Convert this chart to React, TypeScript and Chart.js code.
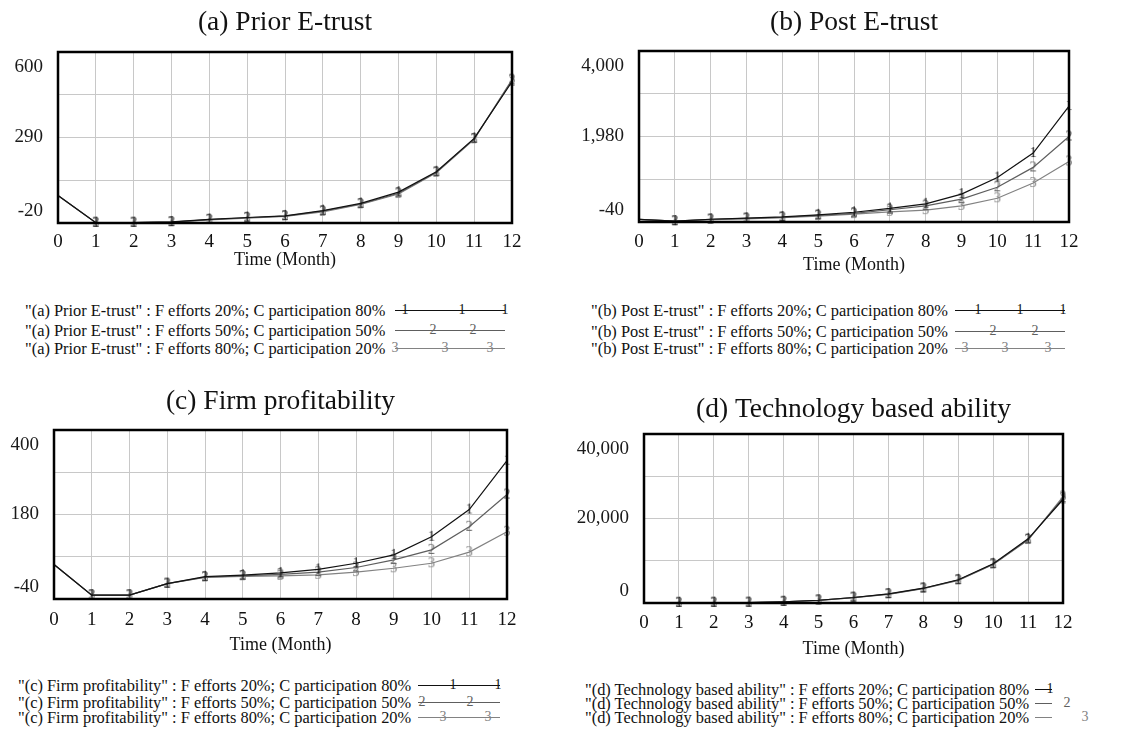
import React, { useEffect, useRef } from 'react';
import { Chart, registerables } from 'chart.js';

Chart.register(...registerables);

// ---------- data ----------
const months = ['0', '1', '2', '3', '4', '5', '6', '7', '8', '9', '10', '11', '12'];
const scenarios = [
  'F efforts 20%; C participation 80%',
  'F efforts 50%; C participation 50%',
  'F efforts 80%; C participation 20%',
];
const titles = ['(a) Prior E-trust', '(b) Post E-trust', '(c) Firm profitability', '(d) Technology based ability'];
const xAxisTitle = 'Time (Month)';

// (a) Prior E-trust
const priorS1 = [80, -19, -19, -16, -7, 0, 6, 25, 51, 92, 166, 287, 492];
const priorS2 = [80, -19, -19, -17, -8, -1, 5, 23, 49, 88, 164, 285, 497];
const priorS3 = [80, -19, -19, -17, -9, -2, 4, 20, 47, 85, 162, 283, 500];
const priorRange = [-20, 600];
const priorYLabels = ['600', '290', '-20'];

// (b) Post E-trust
const postS1 = [20, -20, 25, 50, 80, 130, 190, 280, 390, 620, 1010, 1590, 2700];
const postS2 = [20, -20, 20, 45, 70, 115, 165, 250, 340, 500, 780, 1250, 1980];
const postS3 = [20, -20, 15, 35, 60, 100, 145, 200, 240, 340, 520, 880, 1390];
const postRange = [-40, 4000];
const postYLabels = ['4,000', '1,980', '-40'];

// (c) Firm profitability
const profitS1 = [50, -30, -30, 0, 18, 22, 28, 37, 53, 75, 122, 193, 320];
const profitS2 = [50, -30, -30, 0, 17, 20, 24, 30, 42, 62, 88, 148, 232];
const profitS3 = [50, -30, -30, 0, 16, 19, 20, 23, 30, 40, 53, 82, 135];
const profitRange = [-40, 400];
const profitYLabels = ['400', '180', '-40'];

// (d) Technology based ability
const techS1 = [0, 50, 60, 80, 300, 650, 1300, 2150, 3500, 5500, 9300, 15200, 24500];
const techS2 = [0, 50, 60, 80, 290, 630, 1270, 2100, 3450, 5400, 9200, 15000, 24800];
const techS3 = [0, 50, 60, 80, 280, 610, 1250, 2050, 3400, 5350, 9100, 14900, 25200];
const techRange = [0, 40000];
const techYLabels = ['40,000', '20,000', '0'];

// ---------- styles / layout ----------
const FONT = "'Liberation Serif', 'Times New Roman', serif";
const seriesColors = ['#111111', '#5e5e5e', '#828282'];
const gridColor = '#c8c8c8';

type Box = { left: number; top: number; width: number; height: number };
type Plot = { left: number; right: number; top: number; bottom: number };
type LegendRow = { from: number; to: number; digits: number[] };
type Panel = {
  title: string;
  series: number[][];
  yRange: number[];
  yLabels: string[];
  canvas: Box;
  plot: Plot;
  titleY: number;
  tickY: number;
  xTitleY: number;
  legend: { left: number; lh: number; ys: number[]; rows: LegendRow[] };
};

const panels: Panel[] = [
  {
    title: titles[0],
    series: [priorS1, priorS2, priorS3],
    yRange: priorRange,
    yLabels: priorYLabels,
    canvas: { left: 0, top: 0, width: 570, height: 275 },
    plot: { left: 58, right: 512, top: 52, bottom: 223 },
    titleY: 23,
    tickY: 242,
    xTitleY: 260,
    legend: {
      left: 25, lh: 19, ys: [310, 330, 348],
      rows: [
        { from: 395, to: 505, digits: [405, 462, 505] },
        { from: 395, to: 505, digits: [433, 473] },
        { from: 395, to: 505, digits: [395, 445, 490] },
      ],
    },
  },
  {
    title: titles[1],
    series: [postS1, postS2, postS3],
    yRange: postRange,
    yLabels: postYLabels,
    canvas: { left: 570, top: 0, width: 571, height: 280 },
    plot: { left: 639, right: 1069, top: 51, bottom: 222 },
    titleY: 23,
    tickY: 242,
    xTitleY: 265,
    legend: {
      left: 591, lh: 19, ys: [310, 331, 348],
      rows: [
        { from: 955, to: 1065, digits: [978, 1020, 1063] },
        { from: 955, to: 1065, digits: [993, 1035] },
        { from: 955, to: 1065, digits: [965, 1005, 1048] },
      ],
    },
  },
  {
    title: titles[2],
    series: [profitS1, profitS2, profitS3],
    yRange: profitRange,
    yLabels: profitYLabels,
    canvas: { left: 0, top: 378, width: 570, height: 285 },
    plot: { left: 54, right: 507, top: 430, bottom: 599 },
    titleY: 402,
    tickY: 620,
    xTitleY: 645,
    legend: {
      left: 18, lh: 17, ys: [685, 702, 717],
      rows: [
        { from: 418, to: 500, digits: [453, 498] },
        { from: 418, to: 500, digits: [422, 470] },
        { from: 418, to: 500, digits: [443, 488] },
      ],
    },
  },
  {
    title: titles[3],
    series: [techS1, techS2, techS3],
    yRange: techRange,
    yLabels: techYLabels,
    canvas: { left: 570, top: 385, width: 571, height: 280 },
    plot: { left: 644, right: 1063, top: 434, bottom: 603 },
    titleY: 410,
    tickY: 623,
    xTitleY: 649,
    legend: {
      left: 585, lh: 15, ys: [689, 703, 717],
      rows: [
        { from: 1035, to: 1052, digits: [1050] },
        { from: 1035, to: 1052, digits: [1067] },
        { from: 1035, to: 1052, digits: [1085] },
      ],
    },
  },
];

function digitCanvas(d: string, color: string): HTMLCanvasElement {
  const c = document.createElement('canvas');
  c.width = 10;
  c.height = 16;
  const ctx = c.getContext('2d')!;
  ctx.font = `14px ${FONT}`;
  ctx.fillStyle = color;
  ctx.textAlign = 'center';
  ctx.textBaseline = 'middle';
  ctx.fillText(d, 5, 8.5);
  return c;
}

function PanelChart({ p }: { p: Panel }) {
  const ref = useRef<HTMLCanvasElement>(null);
  useEffect(() => {
    const canvas = ref.current!;
    const cv = p.canvas;
    const plot = p.plot;
    const [lo, hi] = p.yRange;
    const titleSize = 27.5;
    const titleLH = titleSize * 1.2;
    const titlePadTop = p.titleY - cv.top - titleLH / 2;
    const titlePadBottom = plot.top - cv.top - titleLH - titlePadTop;
    const xAxisH = cv.top + cv.height - plot.bottom;
    const tickPad = p.tickY - plot.bottom - 11.4;
    const xTitlePad = cv.top + cv.height - p.xTitleY - 10.8;

    const frameAndLabels = {
      id: 'frameAndLabels',
      afterDraw(chart: any) {
        const { ctx, chartArea: a } = chart;
        const ys = chart.scales.y;
        ctx.save();
        ctx.strokeStyle = '#000';
        ctx.lineWidth = 2.5;
        ctx.strokeRect(a.left, a.top, a.right - a.left, a.bottom - a.top);
        ctx.fillStyle = '#1a1a1a';
        ctx.font = `19px ${FONT}`;
        ctx.textAlign = 'right';
        ctx.textBaseline = 'middle';
        const vals = [hi, (lo + hi) / 2, lo];
        const offs = [15, 0, -12];
        p.yLabels.forEach((t, i) => {
          ctx.fillText(t, a.left - 15, ys.getPixelForValue(vals[i]) + offs[i]);
        });
        ctx.restore();
      },
    };

    const chart = new Chart(canvas, {
      type: 'line',
      data: {
        labels: months,
        datasets: p.series.map((s, i) => ({
          label: scenarios[i],
          data: s,
          borderColor: seriesColors[i],
          backgroundColor: seriesColors[i],
          borderWidth: 1.2,
          pointStyle: digitCanvas(String(i + 1), seriesColors[i]) as any,
          pointRadius: (c: any) => (c.dataIndex === 0 ? 0 : 5),
          clip: false as any,
          tension: 0,
          fill: false,
        })),
      },
      options: {
        responsive: false,
        animation: false,
        devicePixelRatio: 1,
        events: [],
        layout: {
          padding: {
            left: plot.left - cv.left,
            right: cv.left + cv.width - plot.right,
            top: 0,
            bottom: 0,
          },
        },
        plugins: {
          legend: { display: false },
          tooltip: { enabled: false },
          title: {
            display: true,
            text: p.title,
            color: '#111',
            font: { family: FONT, size: titleSize, weight: 'normal', lineHeight: 1.2 } as any,
            padding: { top: titlePadTop, bottom: titlePadBottom },
          },
        },
        scales: {
          x: {
            type: 'category',
            offset: false,
            grid: { color: gridColor, drawTicks: false, lineWidth: 1 },
            border: { display: false },
            ticks: {
              color: '#111',
              font: { family: FONT, size: 19 },
              padding: tickPad,
              maxRotation: 0,
              autoSkip: false,
            },
            title: {
              display: true,
              text: xAxisTitle,
              color: '#111',
              font: { family: FONT, size: 18 },
              padding: { top: xTitlePad, bottom: xTitlePad },
            },
            afterFit: (s: any) => {
              s.height = xAxisH;
            },
          },
          y: {
            type: 'linear',
            min: lo,
            max: hi,
            grid: { color: gridColor, drawTicks: false, lineWidth: 1 },
            border: { display: false },
            ticks: { display: false },
            afterBuildTicks: (s: any) => {
              s.ticks = [0, 1, 2, 3, 4].map((k) => ({ value: lo + (k * (hi - lo)) / 4 }));
            },
            afterFit: (s: any) => {
              s.width = 0;
            },
          },
        },
      },
      plugins: [frameAndLabels],
    } as any);
    return () => chart.destroy();
  }, [p]);
  return (
    <canvas
      ref={ref}
      width={p.canvas.width}
      height={p.canvas.height}
      style={{
        position: 'absolute',
        left: p.canvas.left,
        top: p.canvas.top,
        width: p.canvas.width,
        height: p.canvas.height,
      }}
    />
  );
}

function PanelLegend({ p }: { p: Panel }) {
  const L = p.legend;
  return (
    <>
      {scenarios.map((sc, i) => {
        const y = L.ys[i];
        const row = L.rows[i];
        return (
          <React.Fragment key={i}>
            <div
              style={{
                position: 'absolute',
                left: L.left,
                top: y - L.lh / 2,
                height: L.lh,
                lineHeight: `${L.lh}px`,
                fontSize: 16.4,
                whiteSpace: 'nowrap',
                color: '#111',
              }}
            >
              {`"${p.title}" : ${sc}`}
            </div>
            <div
              style={{
                position: 'absolute',
                left: row.from,
                top: y,
                width: row.to - row.from,
                height: 0,
                borderTop: `1.3px solid ${seriesColors[i]}`,
              }}
            />
            {row.digits.map((dx, j) => (
              <span
                key={j}
                style={{
                  position: 'absolute',
                  left: dx - 6,
                  top: y - 9,
                  width: 12,
                  height: 18,
                  lineHeight: '18px',
                  textAlign: 'center',
                  fontSize: 14,
                  color: seriesColors[i],
                }}
              >
                {String(i + 1)}
              </span>
            ))}
          </React.Fragment>
        );
      })}
    </>
  );
}

export default function App() {
  return (
    <div
      style={{
        position: 'absolute',
        left: 0,
        top: 0,
        width: 1141,
        height: 740,
        background: '#fff',
        fontFamily: FONT,
        overflow: 'hidden',
      }}
    >
      {panels.map((p, i) => (
        <React.Fragment key={i}>
          <PanelChart p={p} />
          <PanelLegend p={p} />
        </React.Fragment>
      ))}
    </div>
  );
}
